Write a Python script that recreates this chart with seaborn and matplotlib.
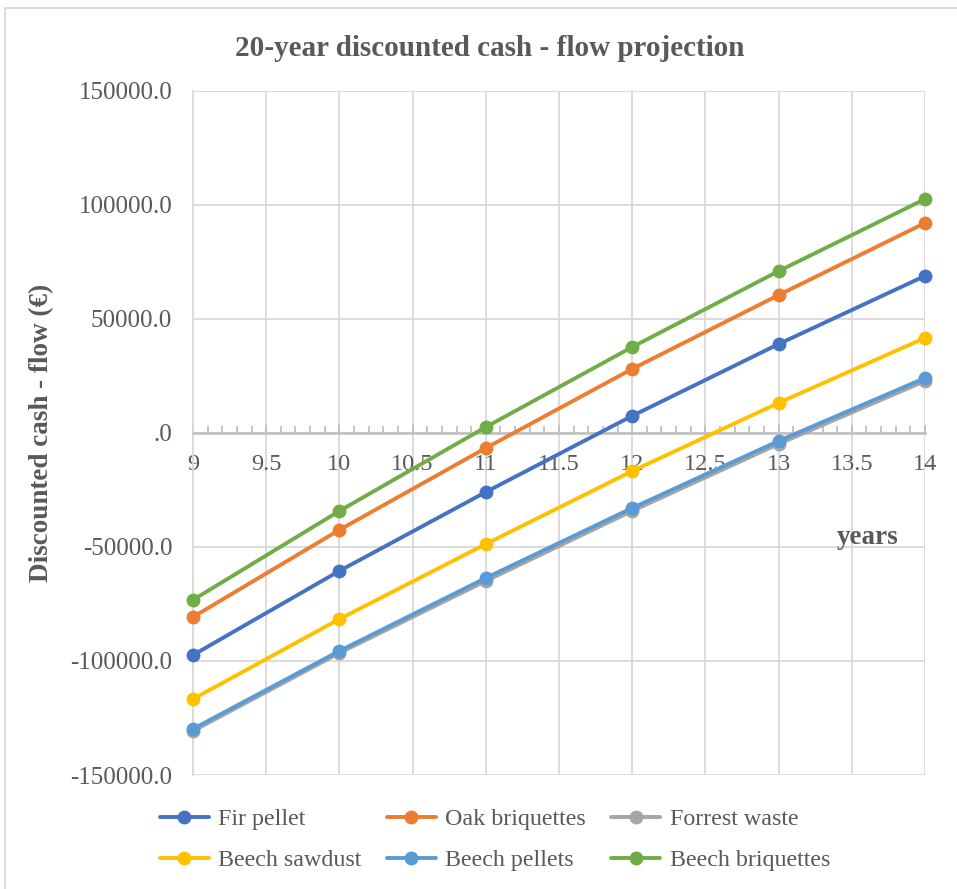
import pandas as pd
import matplotlib.pyplot as plt
import seaborn as sns
from matplotlib.ticker import MultipleLocator, FuncFormatter
from matplotlib.patches import Rectangle

# values
years = [9, 10, 11, 12, 13, 14]
fir_pellet = [-97400, -60500, -25900, 7500, 39000, 68900]
oak_briquettes = [-80700, -42500, -6600, 28100, 60500, 92100]
forrest_waste = [-130700, -96500, -64900, -34200, -4800, 22800]
beech_sawdust = [-116700, -81600, -48700, -16700, 13200, 41700]
beech_pellets = [-129800, -95600, -63600, -32900, -3500, 24100]
beech_briquettes = [-73200, -34200, 2600, 37700, 71000, 102600]

series = {
    'Fir pellet': fir_pellet,
    'Oak briquettes': oak_briquettes,
    'Forrest waste': forrest_waste,
    'Beech sawdust': beech_sawdust,
    'Beech pellets': beech_pellets,
    'Beech briquettes': beech_briquettes,
}
colors = ['#4472C4', '#ED7D31', '#A5A5A5', '#FFC000', '#5B9BD5', '#70AD47']

rows = []
for name, vals in series.items():
    for yr, v in zip(years, vals):
        rows.append({'year': yr, 'value': v, 'series': name})
df = pd.DataFrame(rows)

sns.set_style('white')
plt.rcParams['font.family'] = ['Liberation Serif', 'DejaVu Serif']
txt = '#595959'

fig = plt.figure(figsize=(9.57, 8.89), dpi=100)
ax = fig.add_axes([193 / 957, 1 - 775 / 889, 732 / 957, 684 / 889])

sns.lineplot(data=df, x='year', y='value', hue='series',
             hue_order=list(series.keys()), palette=colors,
             marker='o', markersize=10, markeredgewidth=0, linewidth=2.8,
             ax=ax, legend=False, clip_on=False, zorder=3)

ax.set_xlim(9, 14)
ax.set_ylim(-150000, 150000)
ax.xaxis.set_major_locator(MultipleLocator(0.5))
ax.xaxis.set_minor_locator(MultipleLocator(0.1))
ax.yaxis.set_major_locator(MultipleLocator(50000))
ax.grid(True, which='major', color='#d9d9d9', linewidth=1.3)
ax.set_axisbelow(True)

for s in ['top', 'right']:
    ax.spines[s].set_visible(False)
ax.spines['left'].set_color('#d9d9d9')
ax.spines['left'].set_linewidth(1.3)
ax.spines['bottom'].set_position(('data', 0))
ax.spines['bottom'].set_color('#bfbfbf')
ax.spines['bottom'].set_linewidth(1.8)

def yfmt(v, pos):
    s = f'{v:.1f}'
    return '.0' if abs(v) < 1e-9 else s

ax.yaxis.set_major_formatter(FuncFormatter(yfmt))
ax.xaxis.set_major_formatter(FuncFormatter(lambda v, p: f'{v:g}'))
ax.tick_params(axis='y', left=False, length=0, pad=15, labelsize=18, labelcolor=txt)
ax.tick_params(axis='x', which='major', bottom=True, direction='in', length=6,
               width=1.3, color='#bfbfbf', pad=15, labelsize=17.5, labelcolor=txt)
ax.tick_params(axis='x', which='minor', bottom=True, direction='in', length=5,
               width=1.3, color='#bfbfbf')
ax.set_xlabel('')
ax.set_ylabel('Discounted cash - flow (€)', fontsize=19.5, fontweight='bold',
              color=txt)
ax.yaxis.set_label_coords(-0.19, 0.5)
ax.text(868 / 957, 1 - 537 / 889, 'years', transform=fig.transFigure,
        ha='center', va='center', fontsize=19.5, fontweight='bold', color=txt)

fig.text(490 / 957, 1 - 48 / 889, '20-year discounted cash - flow projection',
         ha='center', va='center', fontsize=21, fontweight='bold', color=txt)

# legend, row-wise order
handles = [plt.Line2D([], [], color=c, linewidth=2.8, marker='o', markersize=10,
                      markeredgewidth=0) for c in colors]
names = list(series.keys())
order = [0, 3, 1, 4, 2, 5]
leg = fig.legend([handles[i] for i in order], [names[i] for i in order],
                 ncol=3, loc='upper left', bbox_to_anchor=(138 / 957, 1 - 787 / 889),
                 frameon=False, fontsize=17.3, handlelength=2.05,
                 handletextpad=0.4, columnspacing=1.03, labelspacing=0.78)
for t in leg.get_texts():
    t.set_color(txt)

fig.patches.append(Rectangle((5 / 957, -0.01), 1.0, 1 - 8 / 889 + 0.01,
                             transform=fig.transFigure, fill=False,
                             edgecolor='#d9d9d9', linewidth=1.3))

fig.savefig('out.png', dpi=100)
